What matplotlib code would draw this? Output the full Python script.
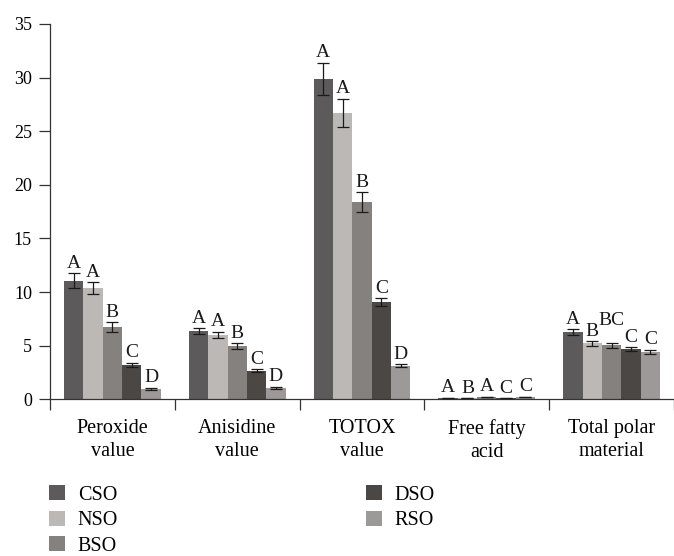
import numpy as np
import matplotlib
matplotlib.use('Agg')
import matplotlib.pyplot as plt
from matplotlib.patches import Patch

plt.rcParams['font.family'] = 'Liberation Serif'

# categories and series
categories = ['Peroxide\nvalue', 'Anisidine\nvalue', 'TOTOX\nvalue', 'Free fatty\nacid', 'Total polar\nmaterial']
series = ['CSO', 'NSO', 'BSO', 'DSO', 'RSO']
colors = ['#5d5a5b', '#bbb8b6', '#85817e', '#4b4744', '#9c9998']

# values per series (one per category)
cso = [11.05, 6.37, 29.9, 0.15, 6.25]
nso = [10.40, 6.02, 26.7, 0.08, 5.22]
bso = [6.75, 4.98, 18.4, 0.25, 5.04]
dso = [3.22, 2.65, 9.08, 0.12, 4.69]
rso = [1.00, 1.08, 3.13, 0.25, 4.41]

# standard deviations
cso_err = [0.70, 0.30, 1.50, 0.0, 0.28]
nso_err = [0.55, 0.30, 1.35, 0.0, 0.22]
bso_err = [0.45, 0.25, 0.90, 0.0, 0.22]
dso_err = [0.20, 0.15, 0.35, 0.0, 0.15]
rso_err = [0.10, 0.10, 0.15, 0.0, 0.22]

# significance letters
cso_sig = ['A', 'A', 'A', 'A', 'A']
nso_sig = ['A', 'A', 'A', 'B', 'B']
bso_sig = ['B', 'B', 'B', 'A', 'BC']
dso_sig = ['C', 'C', 'C', 'C', 'C']
rso_sig = ['D', 'D', 'D', 'C', 'C']

values = [cso, nso, bso, dso, rso]
errors = [cso_err, nso_err, bso_err, dso_err, rso_err]
letters = [cso_sig, nso_sig, bso_sig, dso_sig, rso_sig]

fig = plt.figure(figsize=(6.74, 5.56), dpi=100)
ax = fig.add_axes([50/674, 1-399.3/556, 624/674, 375.3/556])

x = np.arange(len(categories))
w = 0.155
for i, s in enumerate(series):
    pos = x + (i-2)*w
    ax.bar(pos, values[i], w, color=colors[i], label=s, zorder=2)
    ax.errorbar(pos, values[i], yerr=errors[i], fmt='none', ecolor='#1a1a1a',
                elinewidth=0.9, capsize=4, capthick=0.9, zorder=3)
    for j in range(len(categories)):
        top = values[i][j] + errors[i][j]
        dy = 3.8
        if letters[i][j] == 'BC':
            dy += 9
        ax.annotate(letters[i][j], (pos[j], top), xytext=(0, dy),
                    textcoords='offset points', ha='center', va='baseline',
                    fontsize=14, color='#1a1a1a')

ax.set_xlim(-0.5, -0.5 + 624/126)
ax.set_ylim(0, 35)
ax.set_yticks(np.arange(0, 36, 5))
ax.set_xticks(x)
ax.set_xticklabels(categories, fontsize=14.5, linespacing=1.3)
ax.set_xticks(np.arange(-0.5, 4.6, 1), minor=True)
ax.tick_params(axis='x', which='major', length=0, pad=14)
ax.tick_params(axis='x', which='minor', length=8, width=0.9, color='#333333')
ax.tick_params(axis='y', length=8, width=0.9, color='#333333', pad=5, labelsize=13)

for sp in ['top', 'right']:
    ax.spines[sp].set_visible(False)
for sp in ['left', 'bottom']:
    ax.spines[sp].set_linewidth(0.9)
    ax.spines[sp].set_color('#333333')

handles = [Patch(facecolor=c) for c in colors]
fig.legend(handles, series, loc='upper left', bbox_to_anchor=(49/674, 1-485/556),
           ncol=2, frameon=False, fontsize=14.5, handlelength=0.78, handleheight=0.78,
           handletextpad=0.65, columnspacing=12.3, labelspacing=0.3,
           borderpad=0, borderaxespad=0)

fig.savefig('out.png', dpi=100)
